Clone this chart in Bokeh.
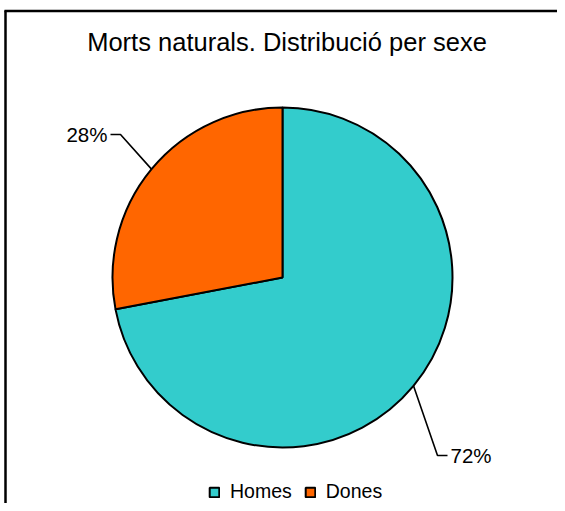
import numpy as np
from bokeh.plotting import figure
from bokeh.models import Range1d, ColumnDataSource, Legend, LegendItem
from bokeh.core.properties import value
from bokeh.embed import file_html
from bokeh.resources import INLINE

# ---- data ----
title_text = "Morts naturals. Distribució per sexe"
categories = ["Homes", "Dones"]
shares = [72, 28]
pct_labels = ["72%", "28%"]
colors = ["#33CCCC", "#FF6600"]

FONT = "Liberation Sans"
W, H = 557, 503


def py(Y):
    # page pixel Y (downwards) -> data y (upwards)
    return H - Y


p = figure(width=W, height=H, output_backend="svg", toolbar_location=None,
           x_range=Range1d(0, W), y_range=Range1d(0, H),
           x_axis_location=None, y_axis_location=None, min_border=0)
p.grid.visible = False
p.outline_line_color = None
p.background_fill_color = "white"
p.border_fill_color = "white"

# chart border (top and left visible, right/bottom off-window)
p.segment(x0=[4], y0=[py(10.5)], x1=[W], y1=[py(10.5)], line_color="black", line_width=2.5)
p.segment(x0=[5], y0=[py(10)], x1=[5], y1=[py(H)], line_color="black", line_width=2.5)

# title
p.text(x=[286.5], y=[py(41)], text=[title_text], text_align="center",
       text_baseline="middle", text_font=value(FONT), text_font_size="25.5px",
       text_color="black")

# pie
cx, cy, r = 282, py(277), 170
frac = np.array(shares, dtype=float) / sum(shares)
cum = np.cumsum(frac)
start_cw = (cum - frac) * 2 * np.pi
end_cw = cum * 2 * np.pi
start_angle = np.pi / 2 - end_cw
end_angle = np.pi / 2 - start_cw
mid = np.pi / 2 - (start_cw + end_cw) / 2

src = ColumnDataSource(dict(cat=categories, start=start_angle, end=end_angle, color=colors))
wr = p.wedge(x=cx, y=cy, radius=r, radius_units="screen", start_angle="start", end_angle="end",
             fill_color="color", line_color="black", line_width=2, source=src)

# leader lines and labels
knees = [(437, 455), (120, 134)]      # page coords of the leader knee
sides = [1, -1]                       # label to the right / left
for i in range(len(categories)):
    x0 = cx + r * np.cos(mid[i])
    y0 = cy + r * np.sin(mid[i])
    kx, ky = knees[i][0], py(knees[i][1])
    ex = kx + sides[i] * 10
    p.line(x=[x0, kx, ex], y=[y0, ky, ky], line_color="black", line_width=1.6)
    p.text(x=[ex + sides[i] * 3], y=[ky], text=[pct_labels[i]],
           text_align="left" if sides[i] > 0 else "right", text_baseline="middle",
           text_font=value(FONT), text_font_size="20.5px", text_color="black")

legend = Legend(items=[LegendItem(label=categories[i], renderers=[wr], index=i) for i in range(len(categories))],
                orientation="horizontal", location=(208, 0),
                glyph_width=12, glyph_height=12, label_standoff=10, spacing=12,
                padding=0, margin=0, border_line_alpha=0, background_fill_alpha=0,
                label_text_font=FONT, label_text_font_size="19.5px", label_text_color="black",
                label_height=20)
p.add_layout(legend)

open("out.html", "w").write(file_html(p, INLINE))
